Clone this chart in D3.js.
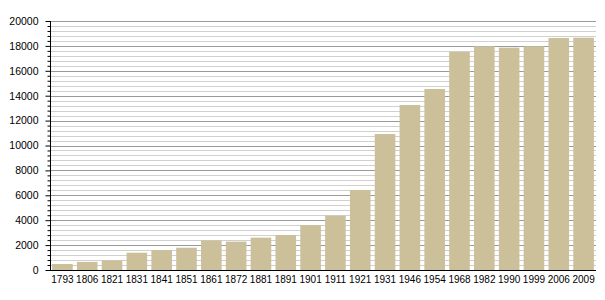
<!DOCTYPE html>
<html>
<head>
<meta charset="utf-8">
<script src="https://cdn.jsdelivr.net/npm/d3@7"></script>
<style>
  body { margin: 0; background: #fff; }
  svg text { font-family: "Liberation Sans", Arial, sans-serif; fill: #000; }
</style>
</head>
<body>
<svg id="chart" width="605" height="300"></svg>
<script>
var years = ["1793", "1806", "1821", "1831", "1841", "1851", "1861", "1872", "1881", "1891",
  "1901", "1911", "1921", "1931", "1946", "1954", "1968", "1982", "1990", "1999", "2006", "2009"];
var population = [480, 650, 780, 1390, 1600, 1790, 2380, 2280, 2600, 2810,
  3610, 4360, 6430, 10920, 13250, 14540, 17530, 17970, 17860, 17970, 18630, 18660];
var majorTicks = [0, 2000, 4000, 6000, 8000, 10000, 12000, 14000, 16000, 18000, 20000];

var margin = { top: 21, right: 9, bottom: 30, left: 50 };
var width = 605 - margin.left - margin.right;
var height = 300 - margin.top - margin.bottom;

var svg = d3.select("#chart");
var g = svg.append("g").attr("transform", "translate(" + margin.left + "," + margin.top + ")");

var x = d3.scaleBand().domain(years).range([0, width]).paddingInner(0.17).paddingOuter(0.085);
var y = d3.scaleLinear().domain([0, 20000]).range([height, 0]);

// grid: minor every 400, major every 2000
var minor = d3.range(0, 20001, 400).filter(function (v) { return v % 2000 !== 0; });
g.append("g").selectAll("line.minor").data(minor).enter().append("line")
  .attr("x1", 0).attr("x2", width)
  .attr("y1", function (d) { return Math.round(y(d)) + 0.5; })
  .attr("y2", function (d) { return Math.round(y(d)) + 0.5; })
  .attr("stroke", "#d0d0d0").attr("stroke-width", 1);
g.append("g").selectAll("line.major").data(majorTicks.slice(1)).enter().append("line")
  .attr("x1", 0).attr("x2", width)
  .attr("y1", function (d) { return Math.round(y(d)) + 0.5; })
  .attr("y2", function (d) { return Math.round(y(d)) + 0.5; })
  .attr("stroke", "#9a9a9a").attr("stroke-width", 1);

// bars
g.append("g").selectAll("rect").data(years).enter().append("rect")
  .attr("x", function (d) { return x(d); })
  .attr("width", x.bandwidth())
  .attr("y", function (d, i) { return y(population[i]); })
  .attr("height", function (d, i) { return height - y(population[i]); })
  .attr("fill", "#cbc09a");

// y axis with minor ticks
var yMinor = d3.axisLeft(y).tickValues(minor).tickSize(3).tickFormat("");
g.append("g").attr("transform", "translate(0.5,0)").call(yMinor)
  .call(function (s) { s.select(".domain").remove(); });
var yAxis = d3.axisLeft(y).tickValues(majorTicks).tickSize(5).tickPadding(7).tickFormat(d3.format("d"));
g.append("g").attr("transform", "translate(0.5,0)").call(yAxis)
  .call(function (s) {
    s.select(".domain").attr("d", "M0," + y(20000) + "V" + height).attr("stroke", "#000");
    s.selectAll("text").attr("fill", "#000").style("font-size", "10.5px");
  });

// x axis
var xAxis = d3.axisBottom(x).tickSize(0).tickPadding(5);
g.append("g").attr("transform", "translate(0," + (height + 0.5) + ")").call(xAxis)
  .call(function (s) {
    s.select(".domain").attr("d", "M0,0H" + width).attr("stroke", "#000");
    s.selectAll("text").attr("fill", "#000").style("font-size", "10px");
  });
</script>
</body>
</html>
